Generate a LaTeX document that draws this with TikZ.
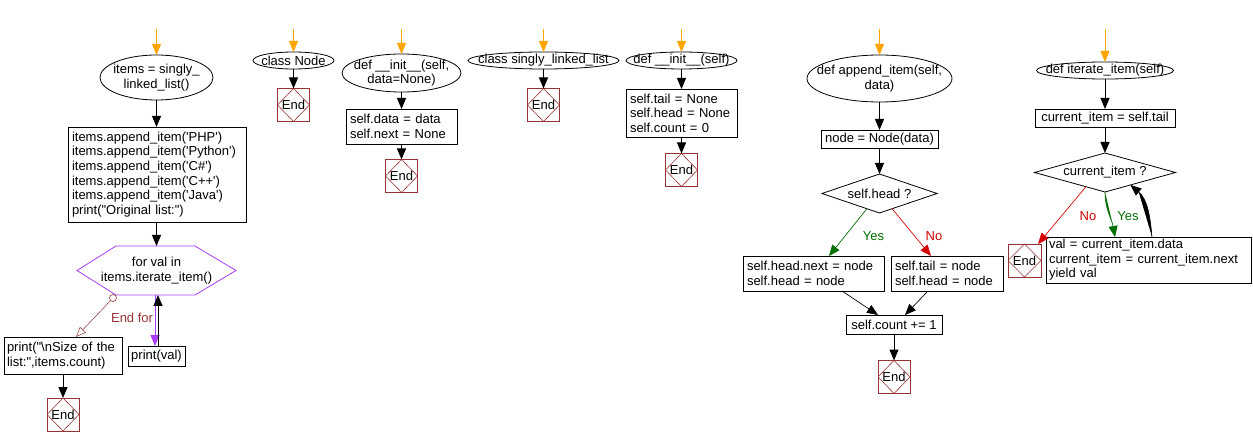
\documentclass[tikz,border=0pt]{standalone}
\usepackage{fontspec}
\setmainfont{Liberation Sans}[Ligatures=TeXOff]
\usetikzlibrary{shapes.geometric,arrows.meta,calc}
\definecolor{startc}{RGB}{255,165,0}
\definecolor{endc}{RGB}{153,51,51}
\definecolor{hexc}{RGB}{170,60,255}
\definecolor{yesc}{RGB}{0,110,0}
\definecolor{noc}{RGB}{210,0,0}
\begin{document}
\begin{tikzpicture}[x=1pt,y=-1pt,
  every node/.style={font=\fontsize{13}{14.6}\selectfont, inner sep=0pt, outer sep=0pt},
  term/.style={rectangle, append after command={\pgfextra{\let\tn\tikzlastnode
     \draw[line width=0.8pt] let \p1=($(\tn.north east)-(\tn.center)$) in (\tn.center) ellipse [x radius=\x1, y radius=\y1];}}},
  proc/.style={rectangle, draw, line width=0.8pt},
  cond/.style={rectangle, append after command={\pgfextra{\let\tn\tikzlastnode
     \draw[line width=0.8pt] (\tn.north) -- (\tn.east) -- (\tn.south) -- (\tn.west) -- cycle;}}},
  endbox/.style={rectangle, draw=endc, line width=0.8pt, minimum width=32, minimum height=33,
    path picture={\draw[endc, line width=0.6pt] (path picture bounding box.north) -- (path picture bounding box.east) -- (path picture bounding box.south) -- (path picture bounding box.west) -- cycle;}},
  arr/.style={-{Triangle[length=11pt,width=9pt]}, line width=1pt},
  thinarr/.style={-{Triangle[length=11pt,width=9pt]}, line width=0.6pt},
  startarr/.style={-{Triangle[length=11pt,width=9pt]}, line width=1pt, draw=startc, fill=startc},
  hexline/.style={draw=hexc, line width=0.8pt},
  endforline/.style={-{Triangle[open,length=10pt,width=8pt]}, draw=endc, line width=0.5pt},
  dotc/.style={circle, draw=endc, line width=0.6pt, minimum size=7, fill=white},
]
\useasboundingbox (0,0) rectangle (1253,446);

% ---------- flow 1: main ----------
\coordinate (s1) at (156.5,29);
\node[term, minimum width=113, minimum height=45, align=center] (a1) at (156.5,77.5) {items = singly\_\\linked\_list()};
\node[proc, minimum width=178, minimum height=95, text width=170, align=left] (a2) at (157,174.5)
 {items.append\_item('PHP')\\items.append\_item('Python')\\items.append\_item('C\#')\\items.append\_item('C++')\\items.append\_item('Java')\\print("Original list:")};
\node[minimum width=159, minimum height=49, align=center] (for) at (156.5,270.5) {for val in\\items.iterate\_item()};
\draw[hexline] (for.west) -- ([xshift=39]for.north west) -- ([xshift=-41]for.north east) -- (for.east) -- ([xshift=-41]for.south east) -- ([xshift=39]for.south west) -- cycle;
\node[proc, minimum width=57, minimum height=20] (pv) at (156.5,356) {print(val)};
\node[proc, minimum width=118, minimum height=37, text width=112, align=left] (pz) at (63,355.5) {print("\textbackslash nSize of the\\list:",items.count)};
\node[endbox] (e1) at (63,414.5) {End};
\node[anchor=east, text=endc] (lbl1) at (153,318) {End for};
\coordinate (pzin) at ($(pz.north)+(13,0)$);

\draw[startarr] (s1) -- (a1.north);
\draw[arr] (a1.south) -- (a1.south |- a2.north);
\draw[arr] (a2.south -| for.north) -- (for.north);
\draw[-{Triangle[length=11pt,width=9pt]}, draw=hexc, fill=hexc, line width=1pt] ([xshift=-1.5]for.south) -- ([xshift=-1.5]pv.north);
\draw[arr] ([xshift=1.5]pv.north) -- ([xshift=1.5]for.south);
\draw[endforline] (113,298) -- (pzin);
\node[dotc] (fdot) at (113,298) {};
\draw[arr] (pz.south) -- (e1.north);

% ---------- flow 2: class Node ----------
\coordinate (s2) at (293.5,29);
\node[term, minimum width=81, minimum height=17] (b1) at (293.5,60.5) {class Node};
\node[endbox] (e2) at (293.5,105) {End};
\draw[startarr] (s2) -- (b1.north);
\draw[arr] (b1.south) -- (e2.north);

% ---------- flow 3: Node.__init__ ----------
\coordinate (s3) at (401.5,29);
\node[term, minimum width=119, minimum height=38, align=center] (c1) at (401.5,73) {def \_\_init\_\_(self,\\data=None)};
\node[proc, minimum width=111, minimum height=35, text width=103, align=left] (c2) at (401.5,126.5) {self.data = data\\self.next = None};
\node[endbox] (e3) at (401.5,176) {End};
\draw[startarr] (s3) -- (c1.north);
\draw[arr] (c1.south) -- (c2.north);
\draw[arr] (c2.south) -- (e3.north);

% ---------- flow 4: class singly_linked_list ----------
\coordinate (s4) at (543.5,29);
\node[term, minimum width=151, minimum height=17] (d1) at (543.5,60.5) {class singly\_linked\_list};
\node[endbox] (e4) at (543.5,105) {End};
\draw[startarr] (s4) -- (d1.north);
\draw[arr] (d1.south) -- (e4.north);

% ---------- flow 5: singly_linked_list.__init__ ----------
\coordinate (s5) at (681.5,29);
\node[term, minimum width=111, minimum height=17] (g1) at (681.5,60.5) {def \_\_init\_\_(self)};
\node[proc, minimum width=111, minimum height=48, text width=103, align=left] (g2) at (681.5,113) {self.tail = None\\self.head = None\\self.count = 0};
\node[endbox] (e5) at (681.5,170) {End};
\draw[startarr] (s5) -- (g1.north);
\draw[arr] (g1.south) -- (g2.north);
\draw[arr] (g2.south) -- (e5.north);

% ---------- flow 6: append_item ----------
\coordinate (s6) at (879.5,29);
\node[term, minimum width=145, minimum height=47, align=center] (h1) at (879.5,78.5) {def append\_item(self,\\data)};
\node[proc, minimum width=117, minimum height=18] (h2) at (879.5,139) {node = Node(data)};
\node[cond, minimum width=115, minimum height=39] (h3) at (879.5,193.5) {self.head ?};
\node[proc, minimum width=141, minimum height=35, text width=133, align=left] (h4) at (813.5,273.5) {self.head.next = node\\self.head = node};
\node[proc, minimum width=112, minimum height=35, text width=104, align=left] (h5) at (947,273.5) {self.tail = node\\self.head = node};
\node[proc, minimum width=96, minimum height=19] (h6) at (894,324.5) {self.count += 1};
\node[endbox] (e6) at (894,377) {End};
\node[text=yesc] (ly1) at (873.5,236) {Yes};
\node[text=noc] (ln1) at (934,236) {No};
\draw[startarr] (s6) -- (h1.north);
\draw[arr] (h1.south) -- (h2.north);
\draw[arr] (h2.south) -- (h3.north);
\draw[thinarr, draw=yesc, fill=yesc] ($(h3.south)!0.22!(h3.west)$) -- ($(h4.north)+(15.5,0)$);
\draw[thinarr, draw=noc, fill=noc] ($(h3.south)!0.22!(h3.east)$) -- ($(h5.north)+(-16,0)$);
\draw[thinarr, fill=black] ($(h4.south)+(28.5,0)$) -- ($(h6.north)+(-16,0)$);
\draw[thinarr, fill=black] ($(h5.south)+(-19,0)$) -- ($(h6.north)+(11,0)$);
\draw[arr] (h6.south) -- (e6.north);

% ---------- flow 7: iterate_item ----------
\coordinate (s7) at (1105,29);
\node[term, minimum width=137, minimum height=17] (k1) at (1105,70.5) {def iterate\_item(self)};
\node[proc, minimum width=140, minimum height=18] (k2) at (1105,118) {current\_item = self.tail};
\node[cond, minimum width=141, minimum height=39] (k3) at (1105,172.5) {current\_item ?};
\node[proc, minimum width=205, minimum height=46, text width=199, align=left] (k4) at (1148.5,260) {val = current\_item.data\\current\_item = current\_item.next\\yield val};
\node[endbox, minimum width=33] (e7) at (1024.5,260.5) {End};
\node[text=noc] (ln2) at (1088,216) {No};
\node[text=yesc] (ly2) at (1128,216) {Yes};
\draw[startarr] (s7) -- (k1.north);
\draw[arr] (k1.south) -- (k2.north);
\draw[arr] (k2.south) -- (k3.north);
\draw[thinarr, draw=noc, fill=noc] ($(k3.south)!0.27!(k3.west)$) -- ([xshift=-3]e7.north east);
\draw[thinarr, draw=yesc, fill=yesc] (k3.south) to[out=-90,in=100] ($(k4.north)+(-33.5,0)$);
\draw[thinarr, fill=black] ($(k4.north)+(3.5,0)$) to[out=95,in=-40] ($(k3.south)!0.36!(k3.east)$);
\end{tikzpicture}
\end{document}
